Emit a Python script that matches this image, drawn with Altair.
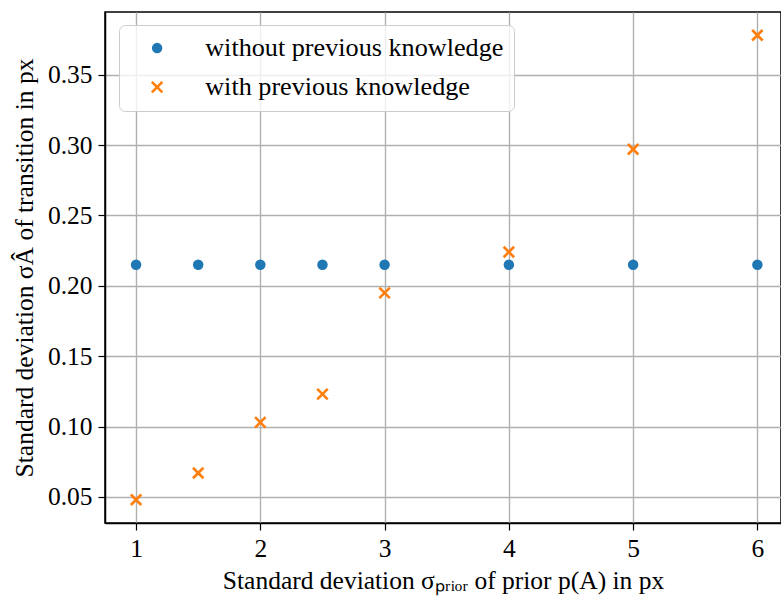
import altair as alt
import pandas as pd

# ---- data ----
sigma_prior = [1, 1.5, 2, 2.5, 3, 4, 5, 6]
without_previous = [0.215, 0.215, 0.215, 0.215, 0.215, 0.215, 0.215, 0.215]
with_previous = [0.048, 0.067, 0.103, 0.123, 0.195, 0.224, 0.297, 0.378]
series_names = ["without previous knowledge", "with previous knowledge"]
x_ticks = [1, 2, 3, 4, 5, 6]
y_ticks = [0.05, 0.10, 0.15, 0.20, 0.25, 0.30, 0.35]

rows = []
for xv, yv in zip(sigma_prior, without_previous):
    rows.append({"x": xv, "y": yv, "series": series_names[0]})
for xv, yv in zip(sigma_prior, with_previous):
    rows.append({"x": xv, "y": yv, "series": series_names[1]})
df = pd.DataFrame(rows)

BLUE = "#1f77b4"
ORANGE = "#ff7f0e"
SERIF = "Liberation Serif"
X_PATH = "M-1,-1L1,1M1,-1L-1,1"

x_title = "Standard deviation σₚᵣᵢₒᵣ of prior p(A) in px"
y_title = "Standard deviation σÂ of transition in px"

chart = alt.Chart(df).mark_point(size=110, strokeWidth=2.6, opacity=1).encode(
    x=alt.X("x:Q",
            scale=alt.Scale(domain=[0.75, 6.19], nice=False, zero=False),
            axis=alt.Axis(values=x_ticks, format="d", title=x_title, titlePadding=7)),
    y=alt.Y("y:Q",
            scale=alt.Scale(domain=[0.0315, 0.3945], nice=False, zero=False),
            axis=alt.Axis(values=y_ticks, format=".2f", title=y_title, titlePadding=10)),
    fill=alt.Fill("series:N", title=None,
                  scale=alt.Scale(domain=series_names, range=[BLUE, "transparent"])),
    stroke=alt.Stroke("series:N", title=None,
                      scale=alt.Scale(domain=series_names, range=["transparent", ORANGE])),
    shape=alt.Shape("series:N", title=None,
                    scale=alt.Scale(domain=series_names, range=["circle", X_PATH])),
).properties(
    width=676,
    height=511,
    autosize=alt.AutoSizeParams(type="none"),
    padding={"left": 105, "top": 12, "right": 0, "bottom": 76},
).configure_view(
    stroke="black", strokeWidth=1.5
).configure_axis(
    labelFont=SERIF, labelFontSize=25.5, labelColor="black", labelPadding=6,
    titleFont=SERIF, titleFontSize=25.5, titleFontWeight="normal", titleColor="black",
    domainColor="black", domainWidth=1.5,
    tickColor="black", tickSize=7, tickWidth=1.2,
    gridColor="#b0b0b0", gridWidth=1.4, zindex=1,
).configure_legend(
    orient="none", legendX=14, legendY=13, zindex=2,
    fillColor="rgba(255,255,255,0.8)", strokeColor="#cccccc", cornerRadius=6,
    padding=10, symbolOffset=15, labelOffset=35, rowPadding=12,
    labelFont=SERIF, labelFontSize=26.2, labelColor="black", labelLimit=0,
    symbolSize=110, symbolStrokeWidth=2.6, symbolOpacity=1,
)

chart.save("out.html", embed_options={"renderer": "svg", "actions": False})
